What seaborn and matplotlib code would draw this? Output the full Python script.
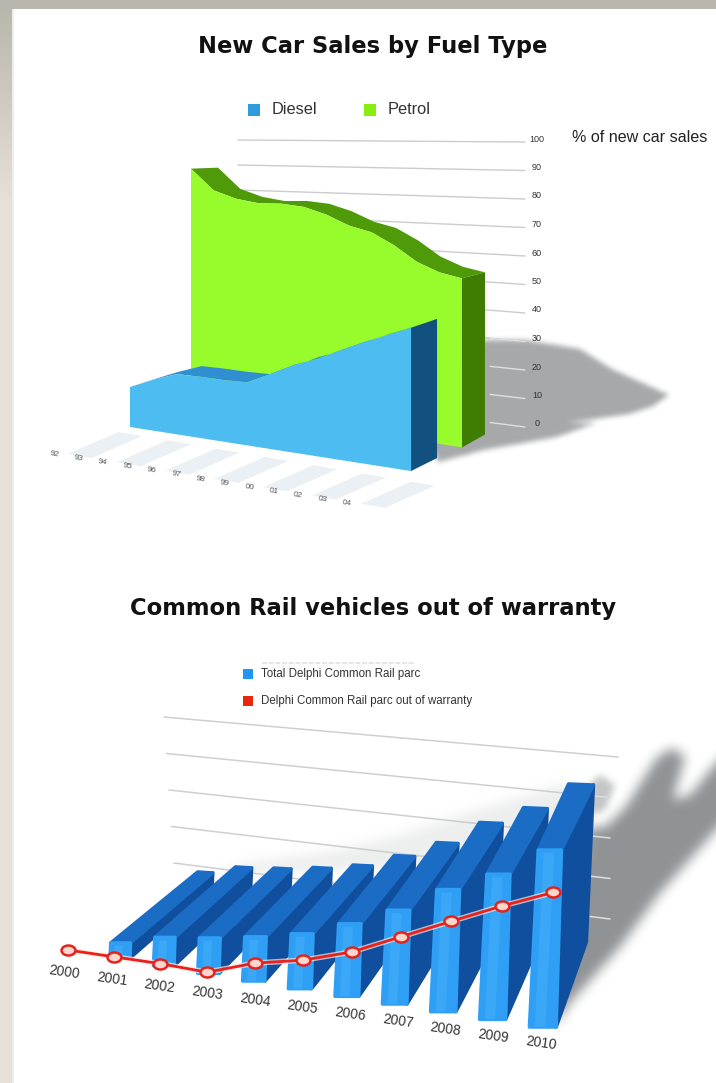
import matplotlib
matplotlib.use("Agg")
import matplotlib.pyplot as plt
from matplotlib.path import Path
from matplotlib.transforms import Affine2D
import numpy as np
import seaborn as sns

# --- top chart data
fuel_years = ["92", "93", "94", "95", "96", "97", "98", "99", "00", "01", "02", "03", "04"]
petrol = [88, 80, 77, 75.5, 75.5, 74.5, 72, 68.5, 66.5, 62.5, 57.5, 54.5, 53]
diesel = [13, 16.4, 19.3, 19.5, 19.5, 19.8, 23.4, 27.2, 30, 33.6, 37, 40, 43]
pct_ticks = [0, 10, 20, 30, 40, 50, 60, 70, 80, 90, 100]

# --- bottom chart data
rail_years = ["2000", "2001", "2002", "2003", "2004", "2005", "2006", "2007", "2008", "2009", "2010"]
total_parc = [8.5, 16, 20, 25, 31, 41, 53, 69, 82, 100]
out_of_warranty = [0, 0.5, 1, 0.5, 10, 16, 25, 38, 51, 64, 76]
rail_grid = [1, 2, 3, 4, 5]

BLUE_FRONT = "#4cbcf1"
GREEN_FRONT = "#98fb2c"

sns.set_theme(style="white")
plt.rcParams["font.family"] = ["Liberation Sans", "DejaVu Sans"]

fig = plt.figure(figsize=(7.16, 10.83), dpi=100)
ax = fig.add_axes([0, 0, 1, 1])
ax.set_xlim(0, 716)
ax.set_ylim(1083, 0)
ax.axis("off")


def soft_shadow(pts, color, blur, alpha=1.0, z=1):
    # blurred polygon, no scipy here so three box passes
    pts = np.array(pts, dtype=float)
    x0, y0 = np.floor(pts.min(axis=0)) - 3 * blur
    x1, y1 = np.ceil(pts.max(axis=0)) + 3 * blur
    xx, yy = np.meshgrid(np.arange(x0, x1) + 0.5, np.arange(y0, y1) + 0.5)
    inside = Path(pts).contains_points(np.c_[xx.ravel(), yy.ravel()])
    mask = inside.reshape(xx.shape).astype(float)
    kernel = np.ones(2 * blur + 1) / (2 * blur + 1)
    for _ in range(3):
        mask = np.apply_along_axis(np.convolve, 0, mask, kernel, "same")
        mask = np.apply_along_axis(np.convolve, 1, mask, kernel, "same")
    rgba = np.zeros(mask.shape + (4,))
    rgba[..., :3] = matplotlib.colors.to_rgb(color)
    rgba[..., 3] = mask * alpha
    ax.imshow(rgba, extent=(x0, x1, y1, y0), origin="upper", zorder=z,
              interpolation="bilinear", aspect="auto")
    ax.set_xlim(0, 716)
    ax.set_ylim(1083, 0)


# page background
strip = np.linspace(0, 1, 200)[:, None, None]
ax.imshow((1 - strip) * np.array([[[0.72, 0.71, 0.67]]]) + strip * np.array([[[0.902, 0.878, 0.847]]]),
          extent=(0, 12, 200, 0), aspect="auto", zorder=0)
ax.fill([0, 12, 12, 0], [199, 199, 1083, 1083], color="#e6e0d8", lw=0, zorder=0)
ax.fill([0, 716, 716, 0], [0, 0, 9, 9], color="#b9b6ad", lw=0, zorder=0)
ax.fill([12, 13.5, 13.5, 12], [9, 9, 1083, 1083], color="#f1ede8", lw=0, zorder=0)
ax.set_xlim(0, 716)
ax.set_ylim(1083, 0)

ax.text(373, 46, "New Car Sales by Fuel Type", ha="center", va="center", fontsize=16.3,
        fontweight="bold", family="DejaVu Sans", color="#111111")
ax.text(373, 609, "Common Rail vehicles out of warranty", ha="center", va="center", fontsize=16.3,
        fontweight="bold", family="DejaVu Sans", color="#111111")

# ---------- top chart ----------
n = len(fuel_years)
u = np.arange(n)

# floor stripes and year labels
for i, lab in enumerate(fuel_years):
    lx, ly = 54 + i * 24.4, 454 + i * 4.15
    if i % 2 == 0:
        ax.fill([lx + 14, lx + 38, lx + 88, lx + 64], [ly, ly + 4, ly - 18, ly - 22],
                color="#ebf0f4", lw=0, zorder=2)
    ax.text(lx, ly, lab, ha="center", va="center", fontsize=6, color="#555555", rotation=-10)

# rear wall grid, perspective runs from the far left end to the axis side
for v in pct_ticks:
    yr = 427 - 2.85 * v
    yl = 140 + 2.5 * (100 - v)
    sns.lineplot(x=[238, 525], y=[yl, yr], color="#cccccc", lw=1.0, ax=ax, zorder=1, legend=False)
    ax.text(537, yr - 3, str(v), ha="center", va="center", fontsize=6.5, color="#333333", zorder=6)
    if v <= 30:
        sns.lineplot(x=[490, 525], y=[yl + (yr - yl) * 252 / 287, yr], color="#dfdfdf", lw=1.0,
                     ax=ax, zorder=3, legend=False)
ax.text(572, 138, "% of new car sales", ha="left", va="center", fontsize=11.6, color="#222222")

soft_shadow([(484, 340), (525, 340), (580, 349), (612, 369), (669, 395), (653, 406), (630, 414),
             (566, 423), (596, 423), (557, 437), (484, 450), (438, 462), (430, 440), (470, 345)],
            "#a6a8aa", 2, z=2)

# petrol slab
px = 191 + u * 22.58
pb = 404.5 + u * 3.58
ps = 2.68 + u * 0.0425
py = pb - np.array(petrol) * ps
pdx = 27 - u * 0.33
pdy = -1 - u * 0.42
ax.fill(np.r_[px, (px + pdx)[::-1]], np.r_[py, (py + pdy)[::-1]], color="#4f9a08", lw=0, zorder=4)
ax.fill([px[-1], px[-1] + pdx[-1], px[-1] + pdx[-1], px[-1]],
        [py[-1], py[-1] + pdy[-1], pb[-1] - 13, pb[-1]], color="#3f7d02", lw=0, zorder=4)
ax.fill(np.r_[px, px[::-1]], np.r_[py, pb[::-1]], color=GREEN_FRONT, lw=0, zorder=4)

# diesel slab
dx = 130 + u * 23.42
db = 427 + u * 3.67
ds = 3.08 + u * 0.0208
dy = db - np.array(diesel) * ds
ax.fill(np.r_[dx, (dx + 25)[::-1]], np.r_[dy, (dy - 8)[::-1]], color="#2f8fd0", lw=0, zorder=5)
ax.fill([dx[-1], dx[-1] + 26, dx[-1] + 26, dx[-1]], [dy[-1], dy[-1] - 9, db[-1] - 13, db[-1]],
        color="#125080", lw=0, zorder=5)
ax.fill(np.r_[dx, dx[::-1]], np.r_[dy, db[::-1]], color=BLUE_FRONT, lw=0, zorder=5)

# legend
ax.scatter([254], [110], marker="s", s=75, color="#2f9bdc", lw=0)
ax.scatter([370], [110], marker="s", s=75, color="#88ee11", lw=0)
ax.text(272, 109, "Diesel", ha="left", va="center", fontsize=11.8, color="#333333")
ax.text(388, 109, "Petrol", ha="left", va="center", fontsize=11.8, color="#333333")

# ---------- bottom chart ----------
for k in rail_grid:
    j = k - 1
    xl, xr = 164 + j * 2.5, 618 if j == 0 else 610
    yl, yr = 717 + j * 36.5, 757 + j * 40.5
    sns.lineplot(x=[xl, xr], y=[yl, yr], color="#cfcfcf", lw=1.1, ax=ax, zorder=1, legend=False)
    if j > 0:
        sns.lineplot(x=[590, xr], y=[yl + (yr - yl) * (590 - xl) / (xr - xl), yr], color="#dedede",
                     lw=1.1, ax=ax, zorder=3, legend=False)

soft_shadow([(585, 830), (606, 826), (625, 808), (657, 757), (673, 748), (685, 757), (673, 800), (690, 795),
             (716, 763), (735, 745), (735, 810), (716, 830), (660, 893), (620, 947), (570, 1003), (555, 1025),
             (555, 830)], "#8f9395", 5, z=2)
soft_shadow([(590, 785), (600, 775), (615, 785), (605, 810), (590, 815)], "#a9acae", 3, alpha=0.7, z=2)
soft_shadow([(215, 876), (250, 862), (330, 852), (400, 835), (470, 812), (560, 785), (590, 790), (590, 860)],
            "#c4c6c8", 5, alpha=0.3, z=2)

PX_PER_UNIT = 1.77
for idx, val in enumerate(total_parc):
    i = idx + 1
    left = 110 + 43 * (i - 1) + 0.4 * (i - 1) ** 2
    w = 20 + (i - 1) * 0.75
    base = 958 + (i - 1) * 7.67
    h = val * PX_PER_UNIT
    lean = 0.05 * h
    tl = np.array([left + lean, base - h])
    tr = np.array([left + w + lean * 0.6, base - h])
    off = np.array([87 - (i - 1) * 6.3, -71 + (i - 1) * 0.55])
    back_w = 15 + (i - 1) * 1.1
    btl = tl + off
    btr = btl + np.array([back_w, 1.0])
    fbr = np.array([left + w, base])
    bbr = btr + np.array([-0.04 * h, 0.887 * h])
    z = 6 + i * 0.01
    ax.fill(*zip(fbr, tr, btr, bbr), color="#0f4f9d", lw=2.5, ec="#0f4f9d", joinstyle="round", zorder=z)
    ax.fill(*zip(tl, tr, btr, btl), color="#1a6cc4", lw=2.5, ec="#1a6cc4", joinstyle="round", zorder=z)
    fl = np.array([left, base])
    ax.fill(*zip(fl, tl, tr, fbr), color="#2f9ff5", lw=2.5, ec="#2f9ff5", joinstyle="round", zorder=z)
    # lighter rib on the front face
    ax.fill(*zip(fl + [w * 0.2, 0], tl + [w * 0.2, 3], tl + [w * 0.6, 3], fl + [w * 0.6, 0]),
            color="#3aa8f7", lw=0, zorder=z)

# red line sits on the same floor as the bars
yr_idx = np.arange(len(rail_years))
line_x = 68 + 45.5 * yr_idx + 0.3 * yr_idx ** 2
line_y = 950 + 7.7 * yr_idx - np.array(out_of_warranty) * PX_PER_UNIT
flat_dot = Path.unit_circle().transformed(Affine2D().scale(1, 0.72))
sns.lineplot(x=line_x, y=line_y, sort=False, color="#ffe9dc", lw=4, alpha=0.7, ax=ax, zorder=7, legend=False)
sns.lineplot(x=line_x, y=line_y, sort=False, color="#ea1f1f", lw=2, marker=flat_dot, markersize=10,
             markerfacecolor="#ffd5cc", markeredgecolor="#e4231b", markeredgewidth=1.8,
             ax=ax, zorder=8, legend=False)

for i, lab in enumerate(rail_years):
    ax.text(64 + 47.7 * i, 972 + 7.1 * i, lab, ha="center", va="center", fontsize=10,
            color="#333333", rotation=-8)

ax.plot([262, 415], [663, 663], color="#e2e2e2", lw=1.2, ls=(0, (3, 1)))
ax.scatter([248], [674], marker="s", s=45, color="#2196f3", lw=0)
ax.scatter([248], [701], marker="s", s=45, color="#e8280c", lw=0)
ax.text(261, 674, "Total Delphi Common Rail parc", ha="left", va="center", fontsize=8.3, color="#333333")
ax.text(261, 701, "Delphi Common Rail parc out of warranty", ha="left", va="center", fontsize=8.3, color="#333333")

ax.set_xlim(0, 716)
ax.set_ylim(1083, 0)
fig.savefig("out.png", dpi=100)
